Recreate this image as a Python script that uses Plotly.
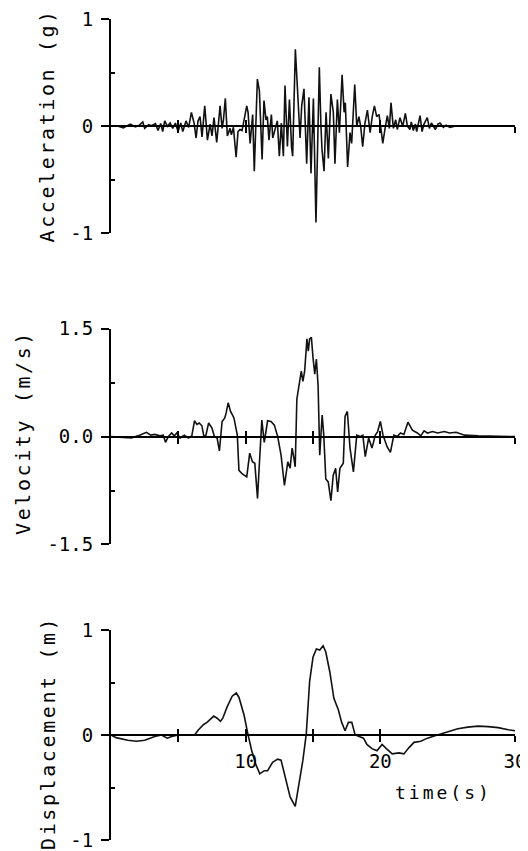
import plotly.graph_objects as go

# ---------------- data ----------------
acc_time = [0.0, 0.43, 0.92, 1.17, 1.42, 1.81, 2.11, 2.36, 2.50, 2.80,
            3.00, 3.30, 3.49, 3.69, 3.84, 3.99, 4.19, 4.39, 4.58, 4.78,
            4.98, 5.18, 5.33, 5.57, 5.77, 5.97, 6.17, 6.32, 6.46, 6.61,
            6.76, 6.96, 7.16, 7.36, 7.50, 7.65, 7.85, 8.10, 8.25, 8.35,
            8.49, 8.64, 8.84, 8.94, 9.09, 9.29, 9.43, 9.58, 9.73, 9.93,
            10.08, 10.18, 10.33, 10.52, 10.64, 10.87, 11.02, 11.22, 11.36, 11.51,
            11.61, 11.73, 11.91, 12.01, 12.18, 12.35, 12.50, 12.65, 12.80, 12.92,
            13.10, 13.25, 13.41, 13.49, 13.69, 13.86, 14.04, 14.16, 14.33, 14.53,
            14.70, 14.85, 15.03, 15.22, 15.47, 15.59, 15.67, 15.82, 15.97, 16.14,
            16.33, 16.51, 16.63, 16.81, 16.96, 17.16, 17.31, 17.40, 17.57, 17.75,
            17.87, 18.10, 18.25, 18.41, 18.54, 18.69, 18.86, 19.04, 19.24, 19.40,
            19.56, 19.73, 19.90, 20.05, 20.18, 20.34, 20.52, 20.67, 20.79, 20.97,
            21.14, 21.26, 21.46, 21.66, 21.86, 22.01, 22.20, 22.30, 22.45, 22.60,
            22.70, 22.95, 23.10, 23.24, 23.49, 23.64, 23.79, 24.09, 24.28, 24.43,
            24.68, 24.88, 25.17, 25.67, 26.66, 30.0]
acc_values = [0.0, 0.005, -0.015, 0.0, 0.02, -0.005, 0.01, 0.04, -0.02, 0.015,
              0.005, 0.025, -0.04, 0.025, -0.05, 0.05, 0.0, 0.03, -0.02, 0.03,
              -0.05, 0.03, -0.05, 0.05, -0.01, 0.13, 0.03, -0.11, 0.05, 0.09,
              -0.10, 0.19, -0.13, 0.02, -0.09, 0.08, -0.15, 0.19, -0.02, 0.06,
              0.26, -0.09, -0.02, -0.08, -0.01, -0.29, -0.05, -0.03, -0.04, 0.09,
              0.19, 0.13, -0.16, 0.11, -0.42, 0.44, 0.33, -0.31, 0.24, 0.06,
              0.09, -0.13, 0.11, -0.11, -0.03, 0.05, -0.28, 0.03, -0.28, 0.38,
              -0.19, 0.25, -0.20, -0.28, 0.72, 0.27, -0.11, 0.19, 0.35, -0.35,
              0.27, -0.44, 0.26, -0.90, 0.55, 0.0, -0.22, -0.42, 0.13, -0.30,
              0.30, 0.13, -0.35, 0.25, -0.06, 0.48, 0.13, 0.22, -0.38, -0.06,
              -0.16, 0.39, 0.0, 0.09, 0.0, -0.19, 0.03, 0.15, -0.06, 0.09,
              0.19, 0.09, 0.11, -0.03, -0.16, -0.03, 0.10, -0.02, 0.22, -0.02,
              0.06, -0.03, 0.08, 0.0, 0.12, 0.0, -0.03, 0.04, -0.04, 0.02,
              -0.05, 0.10, -0.05, 0.02, 0.08, -0.02, 0.03, -0.03, 0.02, 0.03,
              -0.01, 0.01, -0.01, 0.005, 0.0, 0.0]

vel_time = [0, 0.75, 1.5, 2.0, 2.63, 2.95, 3.25, 3.63, 3.88, 4.05,
            4.25, 4.5, 4.7, 4.88, 5.13, 5.45, 5.75, 6.0, 6.2, 6.38,
            6.55, 6.75, 6.9, 7.05, 7.25, 7.5, 7.68, 7.88, 8.05, 8.25,
            8.45, 8.55, 8.7, 8.88, 9.13, 9.38, 9.5, 9.75, 10.08, 10.3,
            10.5, 10.68, 10.88, 11.0, 11.2, 11.38, 11.63, 11.88, 12.13, 12.38,
            12.63, 12.88, 13.13, 13.3, 13.45, 13.58, 13.68, 13.8, 14.0, 14.13,
            14.25, 14.38, 14.55, 14.65, 14.75, 14.88, 15.0, 15.13, 15.25, 15.38,
            15.5, 15.68, 15.8, 15.95, 16.13, 16.33, 16.5, 16.68, 16.83, 17.0,
            17.25, 17.38, 17.55, 17.75, 18.0, 18.25, 18.5, 18.7, 18.88, 19.13,
            19.38, 19.63, 19.8, 20.0, 20.2, 20.38, 20.5, 20.75, 21.0, 21.25,
            21.5, 21.75, 22.05, 22.38, 22.75, 23.0, 23.25, 23.5, 23.88, 24.25,
            24.75, 25.13, 25.63, 26.25, 27.25, 30]
vel_values = [0, -0.01, -0.02, 0.01, 0.06, 0.02, 0.03, 0.01, 0.02, -0.08,
              0.0, 0.05, 0.01, 0.05, -0.02, 0.02, -0.02, 0.01, 0.22, 0.17,
              0.19, 0.15, 0.0, 0.02, 0.19, 0.12, 0.0, -0.02, -0.20, 0.21,
              0.26, 0.33, 0.47, 0.35, 0.26, 0.02, -0.47, -0.52, -0.56, -0.23,
              -0.35, -0.37, -0.86, -0.44, 0.23, -0.08, 0.22, 0.21, 0.16, 0.0,
              -0.26, -0.68, -0.35, -0.44, -0.16, -0.30, -0.42, 0.52, 0.77, 0.91,
              0.77, 0.91, 1.36, 1.19, 1.36, 1.38, 1.10, 0.87, 1.08, 0.70,
              -0.26, 0.30, 0.02, -0.59, -0.63, -0.89, -0.54, -0.44, -0.77, -0.44,
              -0.37, 0.28, 0.35, -0.16, -0.49, 0.02, 0.0, 0.02, -0.28, -0.02,
              -0.16, 0.02, 0.07, 0.21, 0.02, -0.09, -0.14, -0.22, 0.02, 0.0,
              0.05, 0.03, 0.20, 0.09, 0.05, 0.01, 0.08, 0.05, 0.07, 0.05,
              0.07, 0.05, 0.06, 0.02, 0.01, 0.0]

disp_time = [0, 0.38, 1.25, 1.88, 2.5, 3.25, 3.75, 4.18, 4.5, 5.0,
             5.5, 6.2, 6.5, 6.88, 7.13, 7.3, 7.63, 7.88, 8.13, 8.3,
             8.63, 9.0, 9.3, 9.5, 9.88, 10.13, 10.45, 10.75, 11.05, 11.38,
             11.63, 12.0, 12.38, 12.63, 12.95, 13.3, 13.68, 13.95, 14.25, 14.5,
             14.75, 15.0, 15.25, 15.5, 15.75, 15.95, 16.25, 16.55, 16.88, 17.13,
             17.38, 17.63, 17.88, 18.13, 18.5, 18.75, 19.0, 19.38, 19.75, 20.13,
             20.45, 20.88, 21.38, 21.75, 22.13, 22.5, 23.0, 23.5, 24.0, 24.5,
             25.0, 25.75, 26.5, 27.25, 28.0, 28.75, 29.5, 30.0]
disp_values = [0, -0.025, -0.05, -0.06, -0.05, -0.015, 0.0, -0.03, -0.015, 0.0,
               0.0, 0.0, 0.05, 0.10, 0.12, 0.14, 0.18, 0.16, 0.13, 0.16,
               0.27, 0.37, 0.40, 0.36, 0.19, 0.03, -0.15, -0.28, -0.37, -0.34,
               -0.34, -0.26, -0.23, -0.24, -0.40, -0.59, -0.68, -0.46, -0.24, 0.01,
               0.51, 0.74, 0.82, 0.81, 0.85, 0.79, 0.60, 0.35, 0.24, 0.12,
               0.04, 0.12, 0.12, 0.0, -0.02, -0.03, -0.09, -0.13, -0.15, -0.09,
               -0.13, -0.18, -0.17, -0.18, -0.12, -0.07, -0.06, -0.03, -0.01, 0.01,
               0.03, 0.06, 0.075, 0.085, 0.08, 0.07, 0.05, 0.04]

acc_tickvals = [-1, 0, 1]
acc_ticktext = ["-1", "0", "1"]
vel_tickvals = [-1.5, 0, 1.5]
vel_ticktext = ["-1.5", "0.0", "1.5"]
disp_tickvals = [-1, 0, 1]
disp_ticktext = ["-1", "0", "1"]
time_tickvals = [5, 10, 15, 20, 30]
time_ticktext = ["", "10", "", "20", "30"]
titles = ["Acceleration (g)", "Velocity (m/s)", "Displacement (m)"]
xlabel = "time(s)"

# ---------------- layout geometry ----------------
# the page body adds an 8 px margin, so the figure is 8 px smaller and
# every reference pixel position is shifted by that offset
OFF = 8
W, H = 528 - OFF, 851 - OFF
FONT = "DejaVu Sans Mono"
X_LEFT, X_RIGHT = 111, 515
panel_px = [(19.2, 233.3), (328.8, 544.4), (630.0, 840.0)]
title_px = [(46.5, 126), (23, 433), (48, 733)]
xlabel_px = (443, 792)


def px_to_paper_y(py):
    return 1 - (py - OFF) / H


def px_to_paper_x(px):
    return (px - OFF) / W


xdom = [px_to_paper_x(X_LEFT), px_to_paper_x(X_RIGHT)]

series = [
    (acc_time, acc_values, acc_tickvals, acc_ticktext),
    (vel_time, vel_values, vel_tickvals, vel_ticktext),
    (disp_time, disp_values, disp_tickvals, disp_ticktext),
]

fig = go.Figure()
layout = {}
annotations = []

for i, (t, v, tv, tt) in enumerate(series):
    n = i + 1
    xa = "x" if n == 1 else f"x{n}"
    ya = "y" if n == 1 else f"y{n}"
    xo = f"x{n + 3}"
    yo = f"y{n + 3}"
    top, bot = panel_px[i]
    ydom = [px_to_paper_y(bot), px_to_paper_y(top)]
    mid = (ydom[0] + ydom[1]) / 2
    R = max(tv)

    fig.add_trace(go.Scatter(x=t, y=v, mode="lines", xaxis=xa, yaxis=ya,
                             line=dict(color="#111111", width=1.6),
                             showlegend=False, hoverinfo="skip"))
    # empty traces so the overlay (tick-only) axes get drawn
    fig.add_trace(go.Scatter(x=[None], y=[None], xaxis=xa, yaxis=yo,
                             showlegend=False, hoverinfo="skip"))
    fig.add_trace(go.Scatter(x=[None], y=[None], xaxis=xo, yaxis=ya,
                             showlegend=False, hoverinfo="skip"))

    show_x_labels = (n == 3)
    layout["xaxis" if n == 1 else f"xaxis{n}"] = dict(
        domain=xdom, range=[0, 30], anchor="free", position=mid,
        showline=True, linecolor="black", linewidth=2,
        ticks="outside", ticklen=6, tickwidth=2, tickcolor="black",
        tickvals=time_tickvals, ticktext=time_ticktext,
        showticklabels=show_x_labels, ticklabelstandoff=3,
        ticklabeloverflow="allow",
        tickfont=dict(family=FONT, size=19, color="black"),
        showgrid=False, zeroline=False, fixedrange=True, automargin=False)
    layout[f"xaxis{n + 3}"] = dict(
        domain=xdom, range=[0, 30], anchor="free", position=mid,
        overlaying=xa, showline=False,
        ticks="inside", ticklen=6, tickwidth=2, tickcolor="black",
        tickvals=time_tickvals, showticklabels=False,
        showgrid=False, zeroline=False, fixedrange=True, automargin=False)
    layout["yaxis" if n == 1 else f"yaxis{n}"] = dict(
        domain=ydom, range=[-R, R], anchor=xa,
        showline=True, linecolor="black", linewidth=2,
        ticks="outside", ticklen=8, tickwidth=2, tickcolor="black",
        tickvals=tv, ticktext=tt, ticklabelstandoff=4,
        ticklabeloverflow="allow",
        tickfont=dict(family=FONT, size=19, color="black"),
        minor=dict(tickvals=[-R / 2, R / 2], ticks="inside", ticklen=4,
                   tickwidth=2, tickcolor="black", showgrid=False),
        showgrid=False, zeroline=False, fixedrange=True, automargin=False)
    layout[f"yaxis{n + 3}"] = dict(
        domain=ydom, range=[-R, R], anchor=xa, overlaying=ya,
        showline=False, ticks="inside", ticklen=8, tickwidth=2,
        tickcolor="black", tickvals=[-R, R], showticklabels=False,
        showgrid=False, zeroline=False, fixedrange=True, automargin=False)

    tx, ty = title_px[i]
    annotations.append(dict(
        text=f'<span style="letter-spacing:2.6px">{titles[i]}</span>',
        x=px_to_paper_x(tx), y=px_to_paper_y(ty), xref="paper", yref="paper",
        textangle=-90, showarrow=False, xanchor="center", yanchor="middle",
        font=dict(family=FONT, size=20, color="black")))

annotations.append(dict(
    text=f'<span style="letter-spacing:3px">{xlabel}</span>',
    x=px_to_paper_x(xlabel_px[0]), y=px_to_paper_y(xlabel_px[1]),
    xref="paper", yref="paper",
    showarrow=False, xanchor="center", yanchor="middle",
    font=dict(family=FONT, size=18, color="black")))

fig.update_layout(
    width=W, height=H,
    margin=dict(l=0, r=0, t=0, b=0, pad=0, autoexpand=False),
    paper_bgcolor="white", plot_bgcolor="white",
    annotations=annotations,
    showlegend=False,
    **layout)

fig.write_html("out.html", config={"displayModeBar": False})
